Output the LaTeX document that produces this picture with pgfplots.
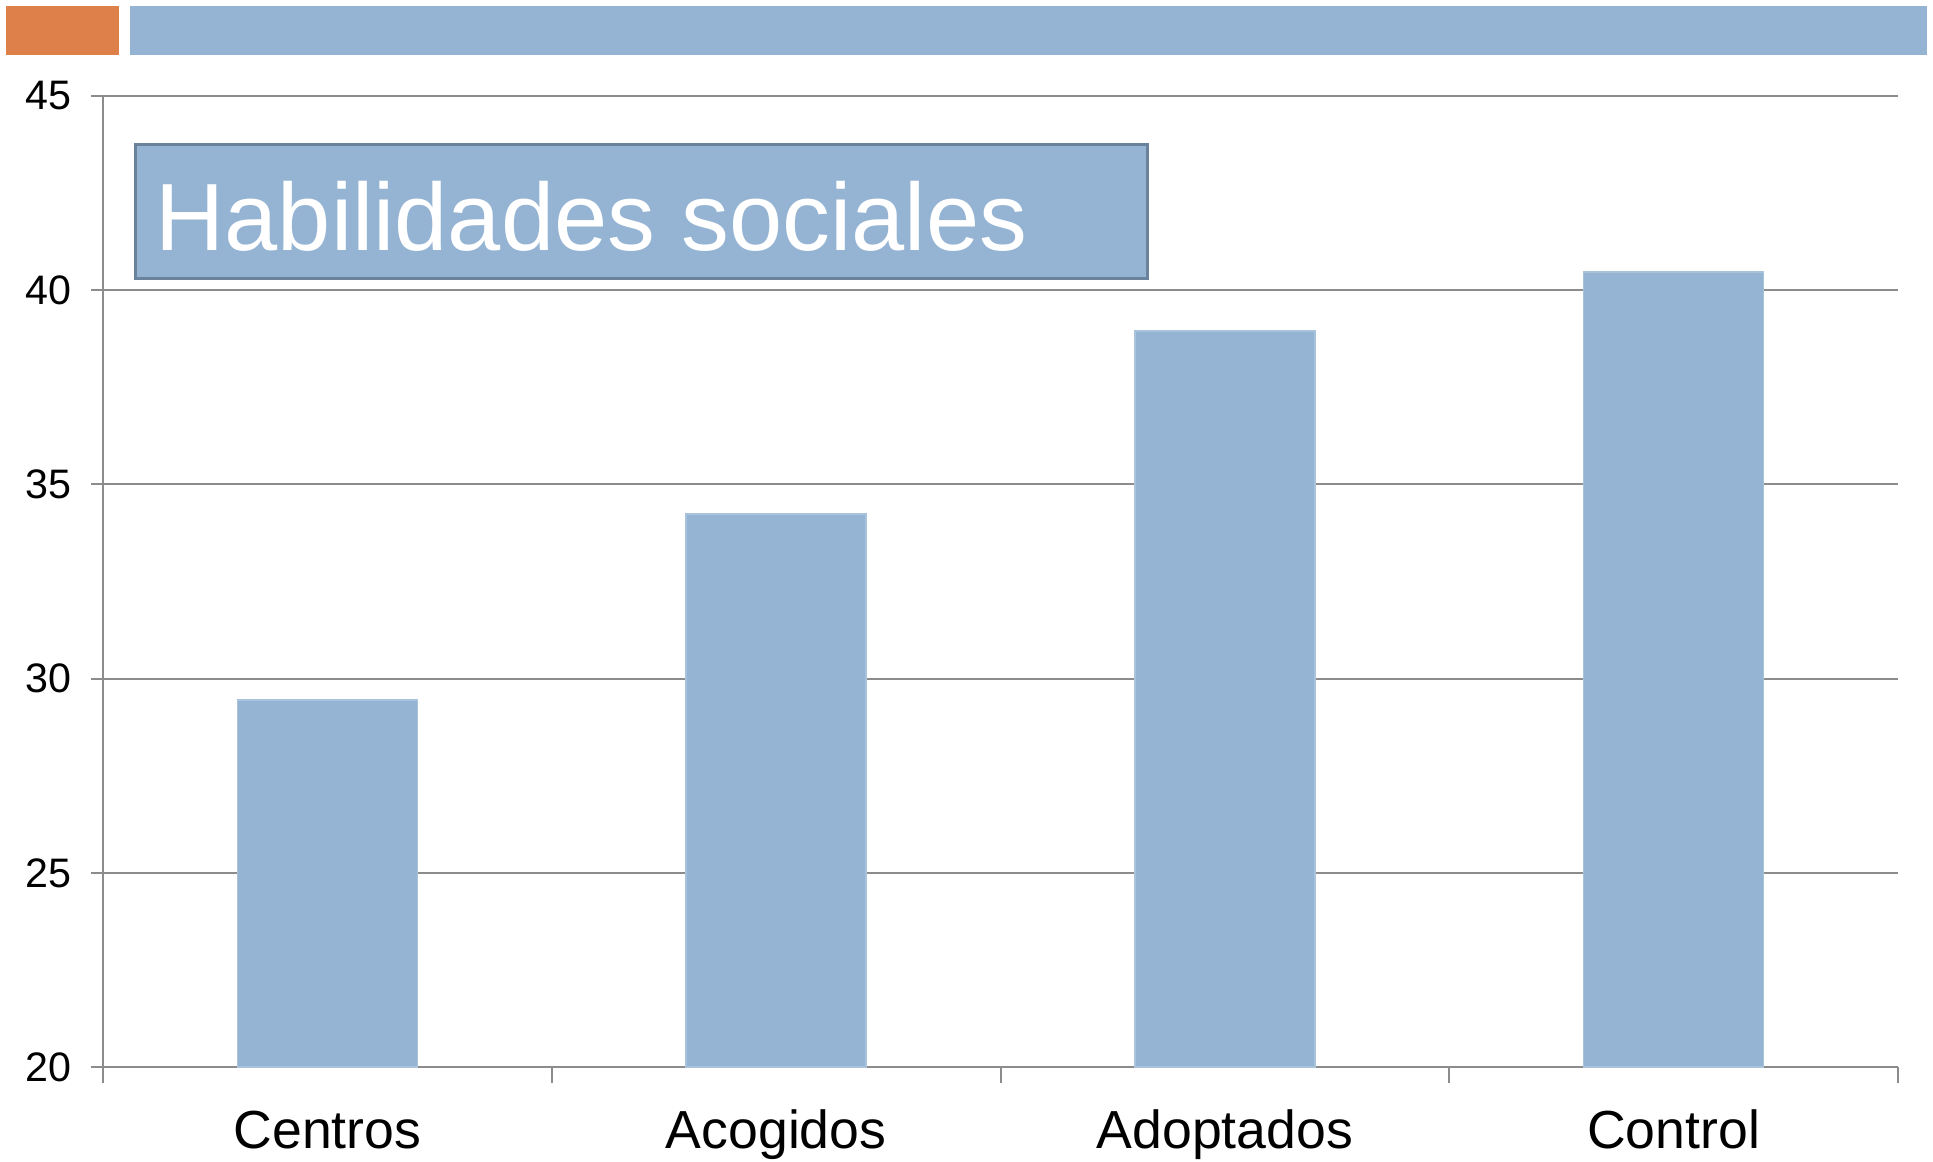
\documentclass[border=0pt]{standalone}
\usepackage{pgfplots}
\pgfplotsset{compat=1.18}
\usepackage{fontspec}
\setmainfont{Liberation Sans}
\definecolor{barblue}{RGB}{149,180,211}
\definecolor{bannerorange}{RGB}{222,128,73}
\definecolor{boxborder}{RGB}{106,130,155}
\definecolor{gridgray}{RGB}{140,140,140}
\begin{document}
\begin{tikzpicture}
\useasboundingbox (0pt,0pt) rectangle (483.25pt,290.25pt);
\fill[bannerorange] (1.5pt,276.5pt) rectangle (29.75pt,288.75pt);
\fill[barblue] (32.5pt,276.5pt) rectangle (481.75pt,288.75pt);
\begin{axis}[
  at={(25.75pt,23.5pt)}, anchor=south west,
  scale only axis, width=448.75pt, height=242.75pt,
  ymin=20, ymax=45, ytick={20,25,30,35,40,45},
  xmin=-0.5, xmax=3.5,
  xtick={0,1,2,3},
  xticklabels={Centros,Acogidos,Adoptados,Control},
  minor xtick={-0.5,0.5,1.5,2.5,3.5},
  axis x line*=bottom, axis y line*=left,
  axis line style={draw=gridgray, line width=0.5pt, -},
  ymajorgrids, grid style={draw=gridgray, line width=0.5pt},
  tick align=outside, tick pos=left,
  major tick length=3pt, minor tick length=4pt,
  major x tick style={draw=none},
  minor x tick style={draw=gridgray, line width=0.5pt},
  major y tick style={draw=gridgray, line width=0.5pt},
  /pgf/number format/assume math mode=true,
  yticklabel style={font=\fontsize{10.3}{12}\selectfont, xshift=-1.3pt},
  xticklabel style={font=\fontsize{13.4}{16}\selectfont, text height=0.75em, text depth=0.22em, yshift=-6.4pt},
  clip=false,
]
\addplot[ybar, bar width=45pt, fill=barblue, draw=barblue!80!white] coordinates {(0,29.45) (1,34.24) (2,38.95) (3,40.47)};
\end{axis}
\draw[boxborder, line width=0.75pt, fill=barblue] (33.75pt,220.75pt) rectangle (286.75pt,254.25pt);
\node[anchor=base west, inner sep=0pt, text=white, font=\fontsize{23.9}{28}\selectfont] at (38.75pt,227.75pt) {Habilidades sociales};
\end{tikzpicture}
\end{document}
